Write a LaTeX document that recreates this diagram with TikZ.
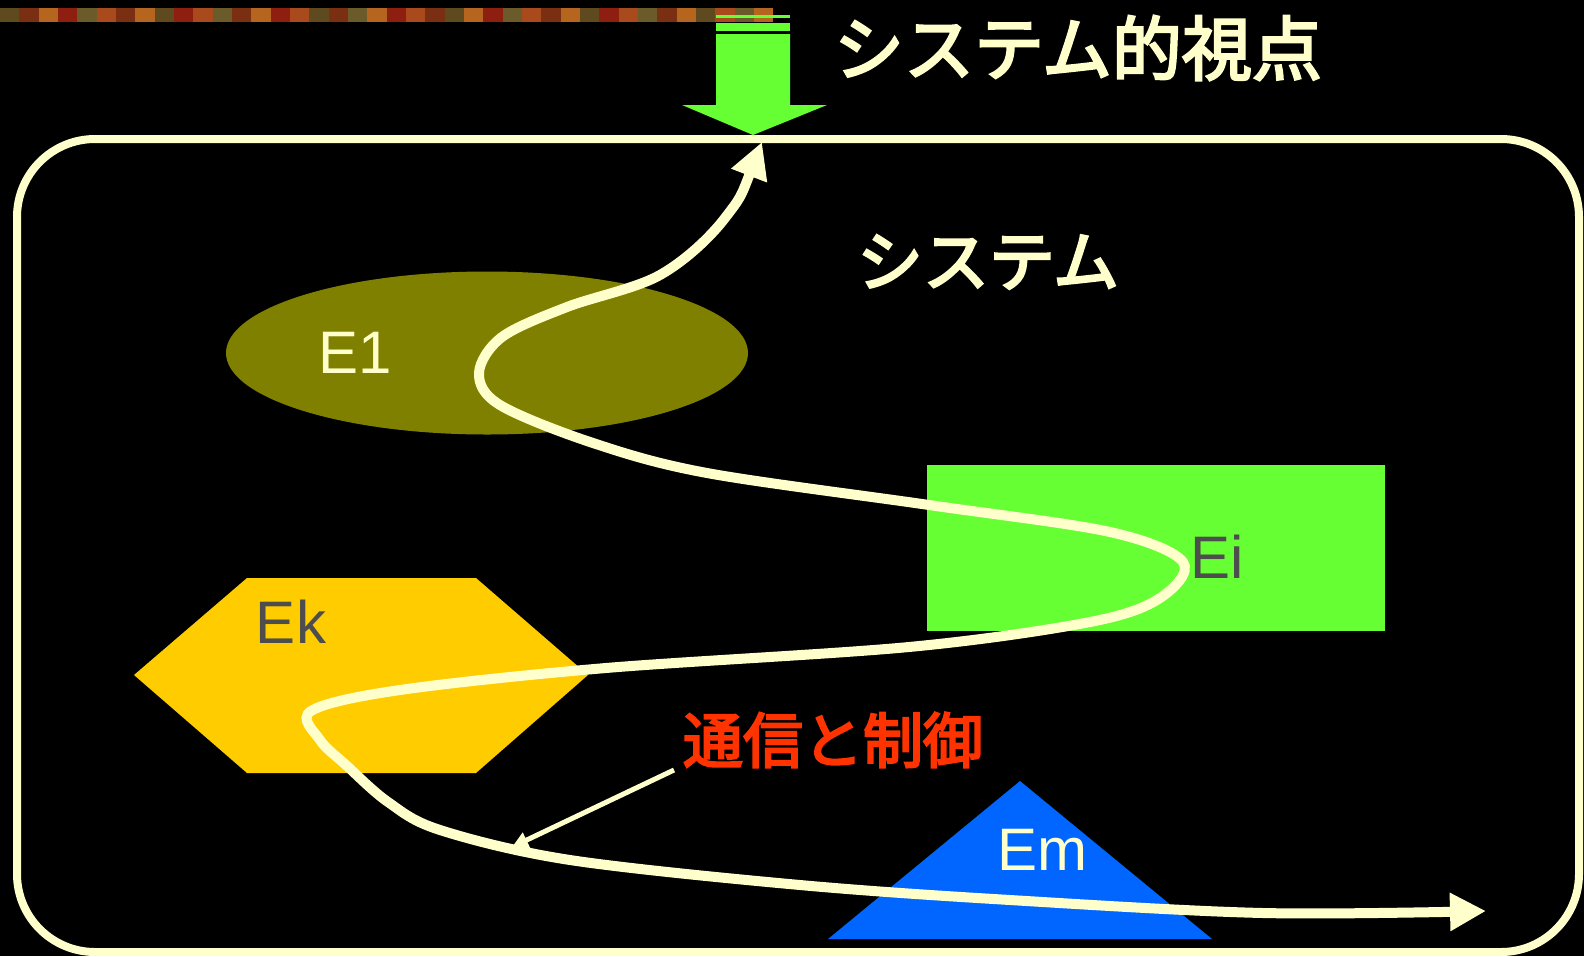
\documentclass[tikz,border=0pt]{standalone}
\usepackage{fontspec}
\setmainfont{Liberation Sans}
\newfontfamily\jp{Noto Sans CJK JP}
\newcommand\heavytext[3]{\special{pdf:literal direct 2 Tr #1 w #2 RG}#3\special{pdf:literal direct 0 Tr 1 w}}
\usetikzlibrary{arrows.meta,shapes.geometric}
\definecolor{cream}{HTML}{FFFFCC}
\definecolor{olivefill}{HTML}{808000}
\definecolor{limefill}{HTML}{66FF33}
\definecolor{goldfill}{HTML}{FFCC00}
\definecolor{bluefill}{HTML}{0066FF}
\definecolor{darklabel}{HTML}{4D4D4D}
\definecolor{redlabel}{HTML}{FF3300}
\definecolor{sa}{HTML}{7A2E12}
\definecolor{sb}{HTML}{A84A1C}
\definecolor{sc}{HTML}{5E4A1E}
\definecolor{sd}{HTML}{B5651D}
\definecolor{se}{HTML}{8E1F10}
\definecolor{sf}{HTML}{6B5B2A}
\tikzset{
  lbl/.style={inner sep=0pt, font=\fontsize{60}{60}\selectfont},
  jplbl/.style={inner sep=0pt, text=cream, font=\jp\fontsize{66}{66}\selectfont},
  flow/.style={draw=cream, line width=10pt, {Triangle[length=36pt,width=36pt]}-{Triangle[length=36pt,width=36pt]}},
  callout/.style={draw=cream, line width=5pt, -{Triangle[length=16pt,width=16pt]}},
}
\begin{document}
\begin{tikzpicture}[x=1pt,y=-1pt]
\useasboundingbox (0,0) rectangle (1584,956);
\fill[black] (0,0) rectangle (1584,956);
% decorative strip
\foreach \c [count=\i] in {sc,sa,sd,se,sf,sb,sa,sd,sc,se,sb,sf,sa,sd,se,sb,sc,sa,sf,sd,se,sb,sa,sc,sd,se,sf,sb,sa,sd,sc,se,sb,sf,sa,sd,sc,sb,sf,sd}
  \fill[\c] ({(\i-1)*19.33},8) rectangle ({\i*19.33},22);
% green viewpoint arrow
\fill[limefill] (716,15) rectangle (790,18);
\fill[limefill] (716,23) rectangle (790,31);
\fill[limefill] (716,34) -- (790,34) -- (790,105) -- (827,105) -- (753,135) -- (682,105) -- (716,105) -- cycle;
\node[jplbl, font=\jp\fontsize{70}{70}\selectfont] (title) at (1078,48) {\heavytext{2.4}{1 1 0.8}{システム的視点}};
% system frame
\draw[cream, line width=8pt, rounded corners=78pt] (17,139) rectangle (1579,952);
\node[jplbl] (sys) at (988,262) {\heavytext{2.4}{1 1 0.8}{システム}};
% elements
\node[ellipse, fill=olivefill, minimum width=522pt, minimum height=163pt, inner sep=0pt] (e1) at (487,353) {};
\node[rectangle, fill=limefill, minimum width=458pt, minimum height=166pt, inner sep=0pt] (ei) at (1156,548) {};
\coordinate (k1) at (134,675);
\coordinate (k2) at (247,578);
\coordinate (k3) at (476,578);
\coordinate (k4) at (588,675);
\coordinate (k5) at (476,773);
\coordinate (k6) at (247,773);
\fill[goldfill] (k1) -- (k2) -- (k3) -- (k4) -- (k5) -- (k6) -- cycle;
\coordinate (m1) at (1020,781);
\coordinate (m2) at (1212,939);
\coordinate (m3) at (828,939);
\fill[bluefill] (m1) -- (m2) -- (m3) -- cycle;
% flow curve
\coordinate (fstart) at (762,142);
\coordinate (fend) at (1486,911);
\draw[flow] plot[smooth, tension=0.55] coordinates {(fstart) (725,218) (660,275) (567,307) (502,337) (479,373) (500,405) (593,443) (707,473) (929,505) (1110,532) (1183,562) (1160,598) (1090,622) (909,647) (606,668) (400,690) (311,711) (320,740) (346,765) (388,802) (440,830) (570,860) (800,885) (1010,900) (1263,913) (fend)};
% labels
\node[lbl, text=cream] (t1) at (355,353) {E1};
\node[lbl, text=darklabel] (ti) at (1217,557) {Ei};
\node[lbl, text=darklabel] (tk) at (291,622) {Ek};
\node[lbl, text=cream] (tm) at (1042,850) {Em};
\node[inner sep=0pt, text=redlabel, font=\jp\fontsize{60}{60}\selectfont] (comm) at (833,740) {\heavytext{2.2}{1 0.2 0}{通信と制御}};
\coordinate (ctip) at (512,847);
\draw[callout] (674,770) -- (ctip);
\end{tikzpicture}
\end{document}
